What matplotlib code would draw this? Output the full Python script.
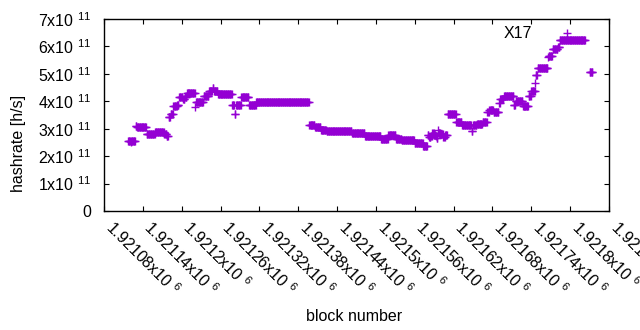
#!/usr/bin/env python3
"""Per-block hashrate estimate for X17, gnuplot-style scatter."""

import matplotlib

matplotlib.use("Agg")
import matplotlib.pyplot as plt
import numpy as np

plt.rcParams["font.family"] = ["Liberation Sans", "DejaVu Sans"]
plt.rcParams["mathtext.fontset"] = "custom"
plt.rcParams["mathtext.rm"] = "Liberation Sans"
plt.rcParams["mathtext.default"] = "regular"

SERIES = "X17"
COLOR = "#9400d3"

# runs of consecutive blocks that share one hashrate value (units of 1e11 h/s)
run_start = [
    1921117, 1921122, 1921123, 1921129, 1921131, 1921146, 1921159, 1921173,
    1921177, 1921180, 1921183, 1921187, 1921193, 1921196, 1921202, 1921205,
    1921208, 1921221, 1921222, 1921234, 1921242, 1921248, 1921250, 1921256,
    1921278, 1921282, 1921284, 1921292, 1921304, 1921315, 1921397, 1921406,
    1921415, 1921424, 1921463, 1921483, 1921508, 1921519, 1921531, 1921540,
    1921560, 1921573, 1921580, 1921582, 1921585, 1921587, 1921590, 1921593,
    1921594, 1921596, 1921597, 1921600, 1921604, 1921607, 1921611, 1921624,
    1921633, 1921648, 1921650, 1921656, 1921665, 1921672, 1921675, 1921682,
    1921690, 1921692, 1921698, 1921713, 1921716, 1921727, 1921736, 1921740,
    1921746, 1921747, 1921750, 1921766, 1921767, 1921773, 1921781, 1921784,
    1921830,
]
run_end = [
    1921121, 1921122, 1921128, 1921130, 1921145, 1921158, 1921172, 1921176,
    1921179, 1921182, 1921186, 1921192, 1921195, 1921201, 1921204, 1921207,
    1921220, 1921221, 1921233, 1921241, 1921247, 1921249, 1921255, 1921277,
    1921281, 1921283, 1921291, 1921303, 1921314, 1921396, 1921405, 1921414,
    1921423, 1921462, 1921482, 1921507, 1921518, 1921530, 1921539, 1921559,
    1921572, 1921579, 1921581, 1921584, 1921586, 1921589, 1921592, 1921593,
    1921595, 1921596, 1921599, 1921603, 1921606, 1921610, 1921623, 1921632,
    1921647, 1921649, 1921655, 1921664, 1921671, 1921674, 1921681, 1921689,
    1921691, 1921697, 1921712, 1921715, 1921726, 1921735, 1921739, 1921745,
    1921746, 1921749, 1921765, 1921766, 1921772, 1921780, 1921783, 1921823,
    1921834,
]
run_value = [
    2.57, 2.50, 2.55, 3.10, 3.06, 2.81, 2.88, 2.79,
    2.74, 3.44, 3.52, 3.84, 3.88, 4.15, 4.08, 4.15,
    4.32, 3.78, 3.99, 4.19, 4.37, 4.48, 4.37, 4.27,
    3.88, 3.52, 3.88, 4.14, 3.88, 3.99, 3.12, 3.06,
    2.97, 2.93, 2.86, 2.73, 2.61, 2.77, 2.64, 2.59,
    2.48, 2.37, 2.77, 2.68, 2.72, 2.84, 2.78, 2.72,
    2.66, 2.95, 2.86, 2.80, 2.70, 2.76, 3.52, 3.24,
    3.15, 2.92, 3.15, 3.17, 3.25, 3.60, 3.70, 3.60,
    3.94, 4.10, 4.21, 3.86, 4.02, 3.83, 4.20, 4.36,
    4.68, 4.96, 5.20, 5.62, 5.65, 5.92, 5.98, 6.23,
    5.05,
]

x_ticks = [1921080 + 60 * i for i in range(14)]
y_ticks = [0, 1e11, 2e11, 3e11, 4e11, 5e11, 6e11, 7e11]


def expand_runs():
    blocks, rates = [], []
    for start, end, value in zip(run_start, run_end, run_value):
        for b in range(start, end + 1):
            blocks.append(b)
            rates.append(value * 1e11)
    return np.array(blocks), np.array(rates)


def ytick_label(v):
    if v == 0:
        return "0"
    return f"{v / 1e11:.0f}x10 $^{{11}}$"


def xtick_label(v):
    return f"{v / 1e6:.6g}x10 $^{{6}}$"


def main():
    blocks, rates = expand_runs()

    fig = plt.figure(figsize=(6.4, 3.3), dpi=100)
    ax = fig.add_axes([104 / 640, 1 - 211 / 330, 505 / 640, 192 / 330])
    ax.plot(blocks, rates, linestyle="none", marker="+", markersize=5.2,
            markeredgewidth=1.0, color=COLOR, label=SERIES)

    ax.set_xlim(x_ticks[0], x_ticks[-1])
    ax.set_ylim(y_ticks[0], y_ticks[-1])
    ax.set_xticks(x_ticks)
    ax.set_xticklabels([xtick_label(t) for t in x_ticks])
    ax.set_yticks(y_ticks)
    ax.set_yticklabels([ytick_label(t) for t in y_ticks])

    ax.tick_params(direction="in", length=3.5, width=0.8, top=True, right=True,
                   labelsize=11.5, color="black")
    ax.tick_params(axis="y", pad=9)
    ax.tick_params(axis="x", pad=13)
    for lab in ax.get_xticklabels():
        lab.set_rotation(-45)
        lab.set_ha("left")
        lab.set_va("baseline")
        lab.set_rotation_mode("anchor")
    for sp in ax.spines.values():
        sp.set_linewidth(1.0)

    ax.set_xlabel("block number", fontsize=11.5)
    ax.set_ylabel("hashrate [h/s]", fontsize=11.5)
    ax.xaxis.set_label_coords(0.495, -0.51)
    ax.yaxis.set_label_coords(-0.155, 0.35)

    ax.legend(loc="upper right", bbox_to_anchor=(0.962, 0.995), frameon=False,
              markerfirst=False, fontsize=11.5, handlelength=2.0,
              handletextpad=1.2, borderaxespad=0.0)

    fig.savefig("out.png", dpi=100)
    plt.close(fig)


if __name__ == "__main__":
    main()
